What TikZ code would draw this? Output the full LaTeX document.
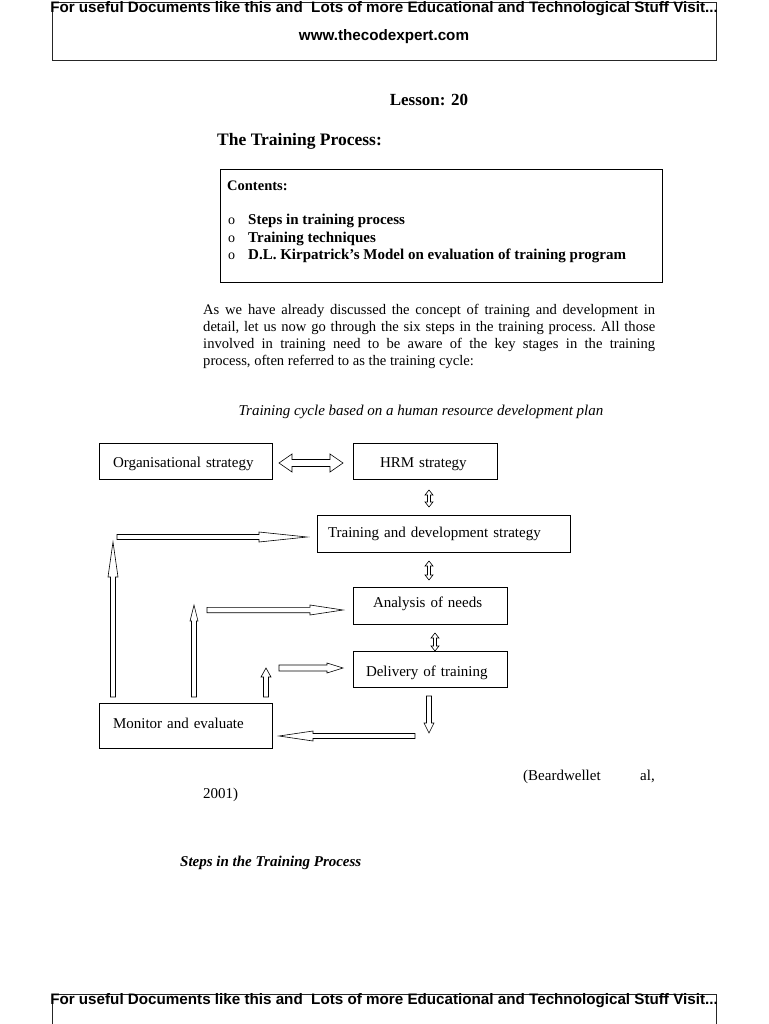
\documentclass[tikz,border=0pt]{standalone}
\usepackage{fontspec}
\setmainfont{Liberation Serif}
\newfontfamily\hsans{Liberation Sans}
\tikzset{
  blk/.style={draw=black, line width=0.6pt, fill=white, line join=miter},
  boxn/.style={draw=black, line width=0.8pt, inner ysep=0pt, align=left, text depth=0pt, font=\fontsize{15}{17}\selectfont},
  hdr/.style={font=\hsans\bfseries\fontsize{15.2}{17}\selectfont, inner sep=0pt, anchor=base},
  txt/.style={font=\fontsize{15}{17}\selectfont, inner sep=0pt, anchor=base west},
}
\newcommand\harr[6]{%
  \pgfmathsetmacro\hb{#2-sign(#2-#1)*#6}%
  \draw[blk] (#1,#3-#4) -- (\hb,#3-#4) -- (\hb,#3-#5) -- (#2,#3) -- (\hb,#3+#5) -- (\hb,#3+#4) -- (#1,#3+#4) -- cycle;}
\newcommand\varr[6]{%
  \pgfmathsetmacro\hb{#2-sign(#2-#1)*#6}%
  \draw[blk] (#3-#4,#1) -- (#3-#4,\hb) -- (#3-#5,\hb) -- (#3,#2) -- (#3+#5,\hb) -- (#3+#4,\hb) -- (#3+#4,#1) -- cycle;}
\newcommand\hdarr[6]{%
  \pgfmathsetmacro\ha{#1+#6}\pgfmathsetmacro\hb{#2-#6}%
  \draw[blk] (#1,#3) -- (\ha,#3-#5) -- (\ha,#3-#4) -- (\hb,#3-#4) -- (\hb,#3-#5) -- (#2,#3) -- (\hb,#3+#5) -- (\hb,#3+#4) -- (\ha,#3+#4) -- (\ha,#3+#5) -- cycle;}
\newcommand\vdarr[6]{%
  \pgfmathsetmacro\ha{#1+#6}\pgfmathsetmacro\hb{#2-#6}%
  \draw[blk] (#3,#1) -- (#3-#5,\ha) -- (#3-#4,\ha) -- (#3-#4,\hb) -- (#3-#5,\hb) -- (#3,#2) -- (#3+#5,\hb) -- (#3+#4,\hb) -- (#3+#4,\ha) -- (#3+#5,\ha) -- cycle;}
\begin{document}
\begin{tikzpicture}[x=1pt,y=-1pt]
\useasboundingbox[fill=white] (0,0) rectangle (768,1024);
% header
\draw[line width=0.9pt, draw=black!85] (52,2) rectangle (716,60);
\node[hdr] (h1) at (384,13) {For useful Documents like this and\ \ Lots of more Educational and Technological Stuff Visit...};
\node[hdr] (h2) at (384,41) {www.thecodexpert.com};
% titles
\node[font=\bfseries\fontsize{17}{20}\selectfont, inner sep=0pt, anchor=base] (lesson) at (429,106) {Lesson: 20};
\node[font=\bfseries\fontsize{17.5}{20}\selectfont, inner sep=0pt, anchor=base west] (title) at (217,146) {The Training Process:};
% contents box
\draw[line width=0.8pt] (220,169) rectangle (662,282);
\node[txt, font=\bfseries\fontsize{14.5}{16}\selectfont] (cont) at (227,190.5) {Contents:};
\node[txt, font=\fontsize{14}{16}\selectfont] (b1) at (228,225) {o};
\node[txt, font=\fontsize{14}{16}\selectfont] (b2) at (228,242) {o};
\node[txt, font=\fontsize{14}{16}\selectfont] (b3) at (228,259) {o};
\node[txt, font=\bfseries\fontsize{15}{16}\selectfont] (c1) at (248,225) {Steps in training process};
\node[txt, font=\bfseries\fontsize{15}{16}\selectfont] (c2) at (248,242) {Training techniques};
\node[txt, font=\bfseries\fontsize{15}{16}\selectfont] (c3) at (248,259) {D.L. Kirpatrick's Model on evaluation of training program};
% paragraph
\node[font=\fontsize{14.6}{16.7}\selectfont, inner sep=0pt, anchor=north west, text width=452pt, align=justify] (para) at (203,304.5)
 {\frenchspacing As we have already discussed the concept of training and development in\linebreak
  detail, let us now go through the six steps in the training process. All those\linebreak
  involved in training need to be aware of the key stages in the training\linebreak
  process, often referred to as the training cycle:};
\node[font=\itshape\fontsize{15}{16}\selectfont, inner sep=0pt, anchor=base] (cap) at (421,415.5) {Training cycle based on a human resource development plan};
% diagram boxes
\node[boxn, minimum width=173pt, minimum height=36pt, inner xsep=14pt, text width=145pt, text height=13pt] (org) at (185.5,461) {Organisational strategy};
\node[boxn, minimum width=144pt, minimum height=36pt, inner xsep=27pt, text width=90pt, text height=13pt] (hrm) at (425,461) {HRM strategy};
\node[boxn, minimum width=253pt, minimum height=37pt, inner xsep=11pt, text width=231pt, text height=8pt] (td) at (443.5,533.5) {Training and development strategy};
\node[boxn, minimum width=154pt, minimum height=37pt, inner xsep=20pt, text width=114pt, text height=4pt] (an) at (430,605.5) {Analysis of needs};
\node[boxn, minimum width=154pt, minimum height=36pt, inner xsep=13pt, text width=128pt, text height=15pt] (del) at (430,669) {Delivery of training};
\node[boxn, minimum width=173pt, minimum height=45pt, inner xsep=14pt, text width=145pt, text height=6pt] (mon) at (185.5,725.5) {Monitor and evaluate};
% arrows
\hdarr{279}{343}{463}{3.5}{9}{13}
\vdarr{490}{507}{429}{1.5}{4}{5}
\vdarr{561}{580}{429}{1.5}{4}{5}
\vdarr{633}{651}{435}{1.5}{4}{5}
\harr{117}{307}{537}{2.5}{5}{48}
\harr{207}{343}{610}{2.7}{5}{33}
\harr{279}{343}{668}{3}{5}{16}
\varr{697}{542}{113}{2.5}{5}{35}
\varr{697}{605}{194}{2.5}{4}{16}
\varr{697}{668}{266}{2.5}{5}{9}
\varr{696}{733}{429}{2.5}{5}{10}
\harr{415}{279}{736}{2.5}{5}{34}
% reference
\node[txt] (ref1) at (523,780.5) {(Beardwellet};
\node[txt] (ref2) at (640,780.5) {al,};
\node[txt] (ref3) at (203,798.5) {2001)};
\node[txt, font=\bfseries\itshape\fontsize{15}{16}\selectfont] (steps) at (180,866.5) {Steps in the Training Process};
% footer
\draw[line width=0.9pt, draw=black!85] (52,1030) -- (52,994) -- (716,994) -- (716,1030);
\node[hdr] (f1) at (384,1004.5) {For useful Documents like this and\ \ Lots of more Educational and Technological Stuff Visit...};
\end{tikzpicture}
\end{document}
